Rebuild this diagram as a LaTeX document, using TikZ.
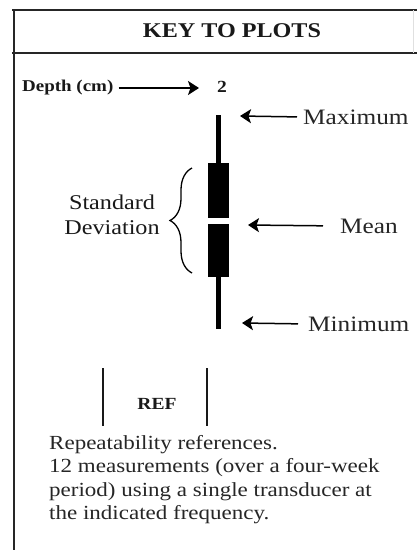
\documentclass[tikz,border=0pt]{standalone}
\usepackage{fontspec}
\setmainfont{Liberation Serif}[FakeStretch=1.15]
\usetikzlibrary{arrows.meta,decorations.pathreplacing}
\begin{document}
\begin{tikzpicture}[x=1pt,y=-1pt,
  frameline/.style={line width=2.5pt, draw=black!85},
  ptr/.style={line width=1.5pt, draw=black, -{Stealth[length=11pt,width=14pt,inset=2.5pt]}},
  lbl/.style={font=\fontsize{22}{24}\selectfont, anchor=west, inner sep=0pt, text=black!85},
  boldlbl/.style={font=\bfseries\fontsize{17}{19}\selectfont, inner sep=0pt, text=black!90},
  sdbox/.style={fill=black, draw=none, minimum width=21pt, inner sep=0pt},
  refline/.style={line width=2.2pt, draw=black!90},
  body/.style={font=\fontsize{20}{23.5}\selectfont, align=left, anchor=north west, inner sep=0pt, text=black!85}
]
\useasboundingbox (0,0) rectangle (417,550);
% frame
\draw[frameline] (12,10) -- (417,10);
\draw[frameline] (12,53) -- (417,53);
\draw[frameline] (14,9) -- (14,550);
\draw[line width=1pt, draw=black!12] (413,10) -- (413,53);
% header
\node[font=\bfseries\fontsize{21}{24}\selectfont, inner sep=0pt, text=black!90] (title) at (232,31) {KEY TO PLOTS};
% depth
\node[boldlbl, anchor=west, font=\bfseries\fontsize{16.5}{19}\selectfont] (depth) at (22,88) {Depth (cm)};
\node[boldlbl] (two) at (222,87) {2};
\coordinate (dtail) at ([xshift=5pt]depth.east);
\coordinate (dtip) at (199,88);
\draw[ptr] (dtail) -- (dtip);
% bar
\coordinate (bartop) at (218.5,115);
\coordinate (barbot) at (218.5,329);
\draw[line width=5pt] (bartop) -- (barbot);
\node[sdbox, minimum height=55pt] (sdup) at (218.5,190.5) {};
\node[sdbox, minimum height=53pt] (sdlo) at (218.5,250.5) {};
\fill[white] (206,218) rectangle (231,224);
% brace
\coordinate (brlo) at (192,273);
\coordinate (brhi) at (192,168);
\draw[line width=1.3pt, decorate, decoration={brace, amplitude=22pt}] (brlo) -- (brhi);
\node[font=\fontsize{21}{25}\selectfont, align=center, inner sep=0pt, text=black!90] (sd) at (112,215) {Standard\\Deviation};
% labels
\node[lbl] (max) at (303,117) {Maximum};
\coordinate (maxtip) at (240,116);
\draw[ptr, shorten <=6pt] (max.west) -- (maxtip);
\node[lbl] (mean) at (340,226) {Mean};
\coordinate (meantip) at (248,225);
\draw[ptr, shorten <=17pt] (mean.west) -- (meantip);
\node[lbl] (min) at (308,324) {Minimum};
\coordinate (mintip) at (242,323);
\draw[ptr, shorten <=10pt] (min.west) -- (mintip);
% REF
\coordinate (rl1) at (103,368);
\coordinate (rl2) at (103,426);
\coordinate (rr1) at (207,368);
\coordinate (rr2) at (207,426);
\draw[refline] (rl1) -- (rl2);
\draw[refline] (rr1) -- (rr2);
\node[boldlbl] (ref) at (157,404) {REF};
% body
\node[body] (txt) at (49,435) {Repeatability references.\\12 measurements (over a four-week\\period) using a single transducer at\\the indicated frequency.};
\end{tikzpicture}
\end{document}
